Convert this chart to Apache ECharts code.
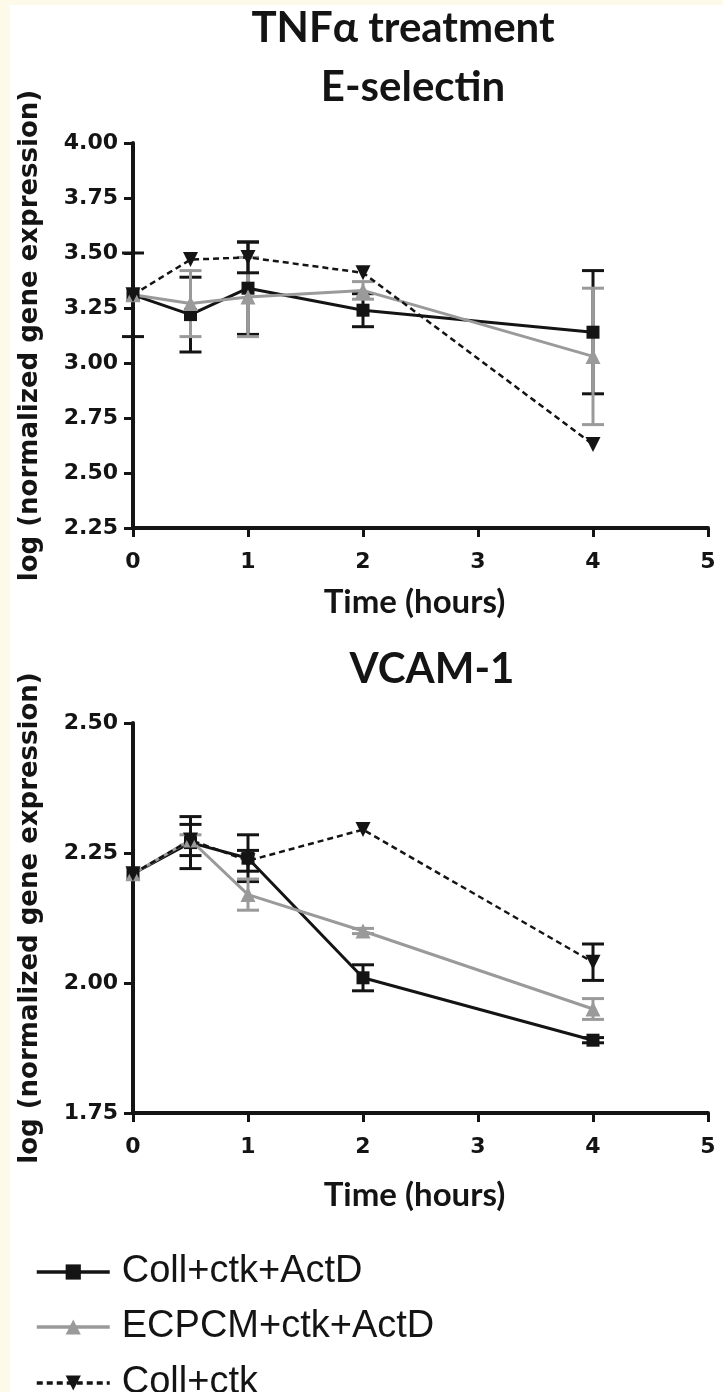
<!DOCTYPE html>
<html>
<head>
<meta charset="utf-8">
<script src="https://cdn.jsdelivr.net/npm/echarts@6/dist/echarts.min.js"></script>
<style>
  html, body { margin: 0; padding: 0; background: #fdfaea; }
  #paper { position: absolute; left: 10px; top: 5px; width: 713px; height: 1387px; background: #fff; }
  #chart { position: absolute; left: 0; top: 0; width: 723px; height: 1392px; }
</style>
</head>
<body>
<div id="paper"></div>
<div id="chart"></div>
<script>
// time points (hours)
const hours = [0, 0.5, 1, 2, 4];

const seriesNames = ["Coll+ctk+ActD", "ECPCM+ctk+ActD", "Coll+ctk"];

// E-selectin, log(normalized gene expression), mean and error
const eselCollActD = [3.31, 3.22, 3.34, 3.24, 3.14];
const eselCollActDErr = [0.19, 0.17, 0.21, 0.075, 0.28];
const eselEcpcmActD = [3.31, 3.27, 3.30, 3.33, 3.03];
const eselEcpcmActDErr = [0, 0.15, 0.18, 0.04, 0.31];
const eselCollCtk = [3.31, 3.47, 3.48, 3.41, 2.63];
const eselCollCtkErr = [0, 0, 0.07, 0, 0];

// VCAM-1
const vcamCollActD = [2.21, 2.27, 2.24, 2.01, 1.89];
const vcamCollActDErr = [0, 0.05, 0.045, 0.025, 0.005];
const vcamEcpcmActD = [2.21, 2.275, 2.17, 2.10, 1.95];
const vcamEcpcmActDErr = [0, 0.01, 0.03, 0.005, 0.02];
const vcamCollCtk = [2.21, 2.275, 2.235, 2.295, 2.04];
const vcamCollCtkErr = [0, 0.03, 0.02, 0, 0.035];

const BLACK = "#141414";
const GREY = "#9a9a9a";
const TICK_FONT = { fontFamily: "DejaVu Sans", fontWeight: "bold", fontSize: 22, color: BLACK };
const TITLE_FONT = { fontFamily: "Lato", fontWeight: "bold", fontSize: 42, color: BLACK };

function pairs(vals) {
  return hours.map((h, i) => [h, vals[i]]);
}

function errData(vals, errs) {
  const out = [];
  hours.forEach((h, i) => {
    if (errs[i] > 0) out.push([h, vals[i] - errs[i], vals[i] + errs[i]]);
  });
  return out;
}

function errorRender(color) {
  return function (params, api) {
    const x = api.value(0);
    const top = api.coord([x, api.value(2)]);
    const bot = api.coord([x, api.value(1)]);
    const w = 11;
    const style = { stroke: color, lineWidth: 3 };
    return {
      type: "group",
      children: [
        { type: "line", shape: { x1: top[0], y1: top[1], x2: bot[0], y2: bot[1] }, style: style },
        { type: "line", shape: { x1: top[0] - w, y1: top[1], x2: top[0] + w, y2: top[1] }, style: style },
        { type: "line", shape: { x1: bot[0] - w, y1: bot[1], x2: bot[0] + w, y2: bot[1] }, style: style }
      ]
    };
  };
}

function lineSeries(name, idx, vals, kind) {
  const s = {
    name: name,
    type: "line",
    xAxisIndex: idx,
    yAxisIndex: idx,
    data: pairs(vals),
    symbolSize: 15,
    z: 3
  };
  if (kind === 0) {
    s.symbol = "rect";
    s.symbolSize = 13;
    s.itemStyle = { color: BLACK };
    s.lineStyle = { color: BLACK, width: 3 };
  } else if (kind === 1) {
    s.symbol = "triangle";
    s.itemStyle = { color: GREY };
    s.lineStyle = { color: GREY, width: 3 };
  } else {
    s.symbol = "path://M0,0 L10,0 L5,9 Z";
    s.itemStyle = { color: BLACK };
    s.lineStyle = { color: BLACK, width: 2.5, type: [6, 4] };
  }
  return s;
}

function errSeries(idx, vals, errs, color) {
  return {
    name: "err",
    type: "custom",
    xAxisIndex: idx,
    yAxisIndex: idx,
    data: errData(vals, errs),
    renderItem: errorRender(color),
    encode: { x: 0, y: [1, 2] },
    z: 2
  };
}

const axisLine = { show: true, lineStyle: { color: BLACK, width: 4 } };
const axisTick = { show: true, length: 9, lineStyle: { color: BLACK, width: 3 } };

function xAxis(idx, gap) {
  return {
    type: "value",
    gridIndex: idx,
    min: 0, max: 5, interval: 1,
    name: "Time (hours)",
    nameLocation: "middle",
    nameGap: gap,
    nameTextStyle: { fontFamily: "Lato", fontWeight: "bold", fontSize: 33, color: BLACK, padding: [0, 0, 0, -12] },
    axisLine: axisLine,
    axisTick: axisTick,
    axisLabel: Object.assign({ margin: 23 }, TICK_FONT),
    splitLine: { show: false }
  };
}

function yAxis(idx, min, max) {
  return {
    type: "value",
    gridIndex: idx,
    min: min, max: max, interval: 0.25,
    name: "log (normalized gene expression)",
    nameLocation: "middle",
    nameGap: 90,
    nameTextStyle: { fontFamily: "DejaVu Sans", fontWeight: "bold", fontSize: 26, color: BLACK },
    axisLine: axisLine,
    axisTick: axisTick,
    axisLabel: Object.assign({ margin: 15, formatter: v => v.toFixed(2) }, TICK_FONT),
    splitLine: { show: false }
  };
}

function legendRow(name, top) {
  return {
    orient: "vertical",
    left: 30,
    top: top,
    itemWidth: 73,
    itemHeight: 19,
    data: [name],
    lineStyle: { width: 3.5 },
    textStyle: { fontFamily: "Liberation Sans", fontSize: 38, color: BLACK, padding: [0, 0, 0, 7] },
    selectedMode: false
  };
}

const chart = echarts.init(document.getElementById("chart"));
chart.setOption({
  backgroundColor: "transparent",
  animation: false,
  title: [
    { text: "TNFα treatment", left: 398, top: 2, textAlign: "center", textStyle: TITLE_FONT },
    { text: "E-selectin", left: 408, top: 61, textAlign: "center", textStyle: TITLE_FONT },
    { text: "VCAM-1", left: 427, top: 643, textAlign: "center", textStyle: TITLE_FONT }
  ],
  grid: [
    { left: 133, top: 143, width: 575, height: 385 },
    { left: 133, top: 723, width: 575, height: 390 }
  ],
  xAxis: [xAxis(0, 58), xAxis(1, 66)],
  yAxis: [yAxis(0, 2.25, 4.0), yAxis(1, 1.75, 2.5)],
  legend: [
    legendRow(seriesNames[0], 1248),
    legendRow(seriesNames[1], 1303),
    legendRow(seriesNames[2], 1359)
  ],
  series: [
    errSeries(0, eselCollActD, eselCollActDErr, BLACK),
    errSeries(0, eselEcpcmActD, eselEcpcmActDErr, GREY),
    errSeries(0, eselCollCtk, eselCollCtkErr, BLACK),
    lineSeries(seriesNames[0], 0, eselCollActD, 0),
    lineSeries(seriesNames[1], 0, eselEcpcmActD, 1),
    lineSeries(seriesNames[2], 0, eselCollCtk, 2),
    errSeries(1, vcamCollActD, vcamCollActDErr, BLACK),
    errSeries(1, vcamEcpcmActD, vcamEcpcmActDErr, GREY),
    errSeries(1, vcamCollCtk, vcamCollCtkErr, BLACK),
    lineSeries(seriesNames[0], 1, vcamCollActD, 0),
    lineSeries(seriesNames[1], 1, vcamEcpcmActD, 1),
    lineSeries(seriesNames[2], 1, vcamCollCtk, 2)
  ]
});
</script>
</body>
</html>
